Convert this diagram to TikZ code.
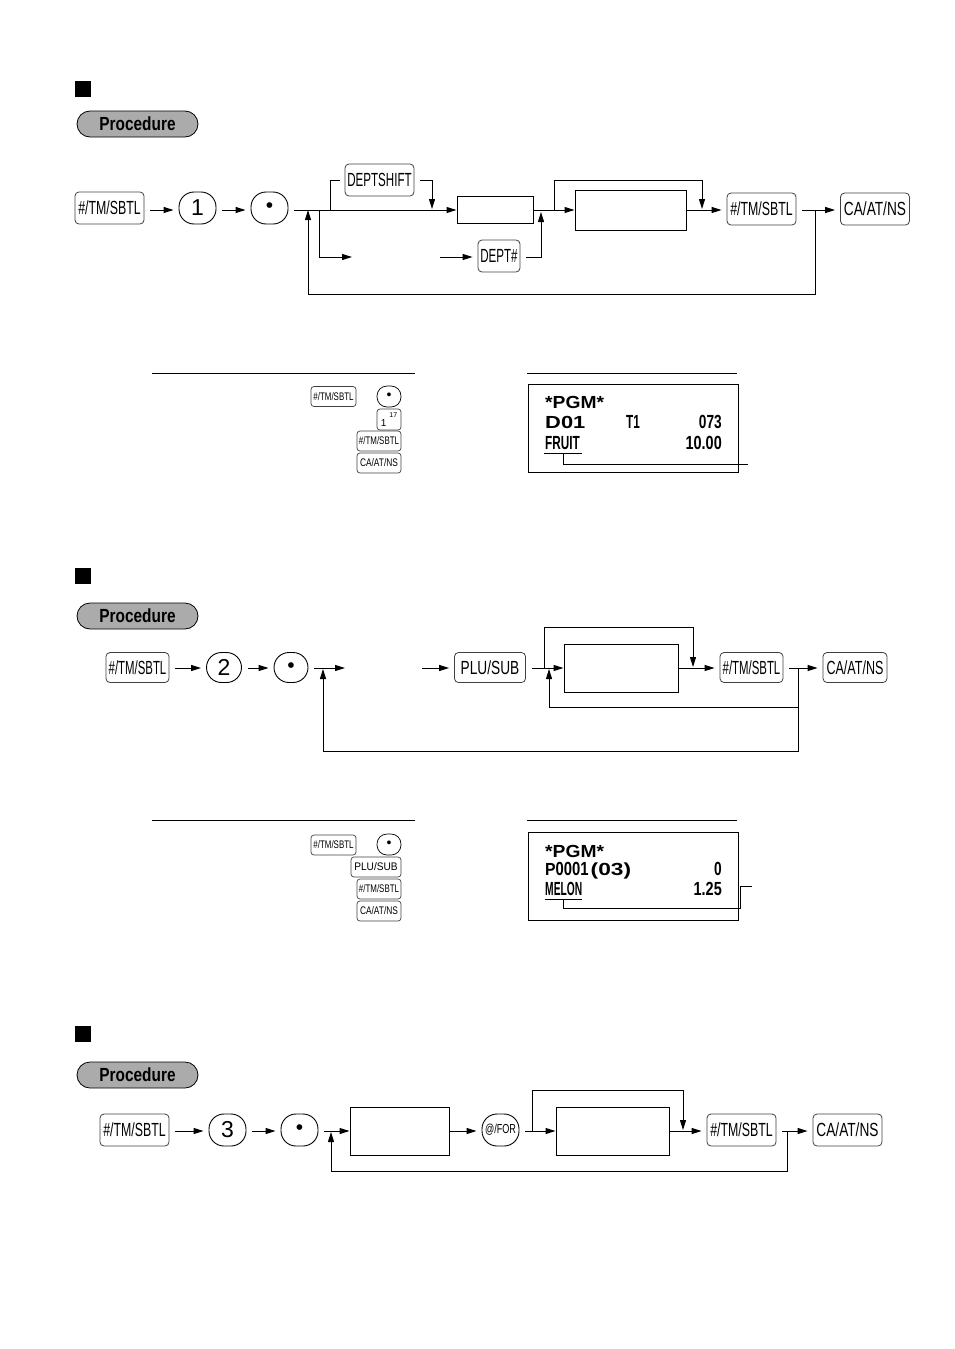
\documentclass[tikz,border=0pt]{standalone}
\usepackage{fontspec}
\setmainfont{Liberation Sans}
\usetikzlibrary{arrows.meta}

\newcommand{\keytxt}[2]{\scalebox{#1}[1]{\fontsize{19}{19}\selectfont #2}}
\newcommand{\smalltxt}[2]{\scalebox{#1}[1]{\fontsize{11}{11}\selectfont #2}}
\newcommand{\lcdbig}[2][1.1]{\scalebox{#1}[1]{\fontsize{17.5}{17.5}\selectfont\bfseries #2}}
\newcommand{\lcdtxt}[2][.62]{\scalebox{#1}[1]{\fontsize{19}{19}\selectfont\bfseries #2}}

\tikzset{
  line/.style={line width=1pt},
  flow/.style={line width=1pt, -{Triangle[length=10pt,width=6pt]}},
  fromkey/.style={shorten <=6pt},
  tokey/.style={shorten >=5pt},
  key/.style={draw=black!75, line width=.8pt, rounded corners=4pt, inner sep=0pt, minimum height=32pt},
  smallkey/.style={draw=black!75, line width=.7pt, rounded corners=3pt, inner sep=0pt, minimum height=20pt},
  roundkey/.style={draw=black, line width=.9pt, rounded corners=15pt, inner sep=0pt, minimum width=37pt, minimum height=32pt},
  smallround/.style={draw=black, line width=.7pt, rounded corners=10pt, inner sep=0pt, minimum width=24pt, minimum height=21pt},
  blank/.style={draw, line width=1pt, inner sep=0pt},
  sqmark/.style={fill=black, inner sep=0pt, minimum size=16pt},
  pill/.style={draw=black, line width=.8pt, fill=black!33, rounded corners=13pt, inner sep=0pt, minimum width=121pt, minimum height=26pt},
  lcd/.style={inner sep=0pt, anchor=base west},
  lcdr/.style={inner sep=0pt, anchor=base east},
}

\begin{document}
\begin{tikzpicture}[x=1pt, y=-1pt]
\useasboundingbox (0,0) rectangle (954,1349);

\node[sqmark] (sq1) at (83,88.5) {};
\node[pill] (pr1) at (137.5,124) {\scalebox{.81}[1]{\fontsize{19}{19}\selectfont\bfseries Procedure}};
\coordinate (a1) at (0,210);
\node[key, minimum width=69pt] (k1) at (109.5,208) {\keytxt{.65}{\#/TM/SBTL}};
\node[roundkey] (c1) at (197.5,208) {\fontsize{23}{23}\selectfont 1};
\node[roundkey] (d1) at (269.5,208) {\fontsize{21}{21}\selectfont •};
\node[key, minimum width=69pt] (ds) at (379.5,180) {\keytxt{.61}{DEPTSHIFT}};
\node[blank, minimum width=76pt, minimum height=27pt] (b1) at (495,210) {};
\node[key, minimum width=42pt] (dk) at (499,256) {\keytxt{.61}{DEPT\#}};
\node[blank, minimum width=111pt, minimum height=40pt] (b2) at (630.5,210) {};
\node[key, minimum width=69pt] (k2) at (761.5,209) {\keytxt{.65}{\#/TM/SBTL}};
\node[key, minimum width=69pt] (k3) at (875,209) {\keytxt{.72}{CA/AT/NS}};
\coordinate (j1) at (308,210);
\coordinate (j2) at (319,210);
\coordinate (j3) at (330,210);
\coordinate (j4) at (432,209);
\coordinate (j5) at (541,212);
\coordinate (j6) at (554,210);
\coordinate (j7) at (702,180);
\coordinate (j8) at (702,209);
\coordinate (j9) at (815,210);
\coordinate (j10) at (815,294);
\coordinate (g1) at (352,257);
\coordinate (g2) at (440,257);
\draw[flow, fromkey, tokey] (k1.east |- a1) -- (c1.west |- a1);
\draw[flow, fromkey, tokey] (c1.east |- a1) -- (d1.west |- a1);
\draw[flow, fromkey] (d1.east |- a1) -- (b1.west);
\draw[line, shorten >=5pt] (j3) |- (ds.west);
\draw[flow, fromkey] (ds.east) -| (j4);
\draw[flow] (j2) |- (g1);
\draw[flow, tokey] (g2) -- (dk.west |- g2);
\draw[flow, fromkey] (dk.east |- g2) -| (j5);
\draw[flow] (b1.east) -- (b2.west);
\draw[flow] (j6) |- (j7) -- (j8);
\draw[flow, tokey] (b2.east) -- (k2.west |- b2.east);
\draw[flow, fromkey, tokey] (k2.east |- a1) -- (k3.west |- a1);
\draw[flow] (j9) -- (j10) -| (j1);

\coordinate (r1a) at (152,373);
\coordinate (r1b) at (415,373);
\draw[line] (r1a) -- (r1b);
\node[smallkey, minimum width=45pt] (s1) at (333.5,396.5) {\smalltxt{.72}{\#/TM/SBTL}};
\node[smallround] (s2) at (389,396.5) {\fontsize{14}{14}\selectfont •};
\node[smallkey, minimum width=24pt, minimum height=21pt] (s3) at (389,419.5) {\raisebox{-3pt}{\fontsize{10}{10}\selectfont 1}\hspace{3pt}\raisebox{6pt}{\fontsize{7}{7}\selectfont 17}};
\node[smallkey, minimum width=44pt] (s4) at (379,441) {\smalltxt{.72}{\#/TM/SBTL}};
\node[smallkey, minimum width=44pt] (s5) at (379,463) {\smalltxt{.76}{CA/AT/NS}};

\coordinate (r2a) at (527,373);
\coordinate (r2b) at (737,373);
\draw[line] (r2a) -- (r2b);
\node[blank, minimum width=210pt, minimum height=88pt] (lcd1) at (633,428) {};
\node[lcd] (t1) at (545,408) {\lcdbig{*PGM*}};
\node[lcd] (t2) at (545,428.5) {\lcdbig[1.25]{D01}};
\node[lcd] (t3) at (626,428.5) {\lcdtxt{T1}};
\node[lcdr] (t4) at (722,428.5) {\lcdtxt[.72]{073}};
\node[lcd] (t5) at (545,449) {\lcdtxt{FRUIT}};
\node[lcdr] (t6) at (722,449) {\lcdtxt[.76]{10.00}};
\coordinate (u1) at (544,453);
\coordinate (u2) at (582,453);
\coordinate (u3) at (563,453);
\coordinate (u4) at (748,464);
\draw[line] (u1) -- (u2);
\draw[line] (u3) |- (u4);

\node[sqmark] (sq2) at (83,575.5) {};
\node[pill] (pr2) at (137.5,616) {\scalebox{.81}[1]{\fontsize{19}{19}\selectfont\bfseries Procedure}};
\node[key, minimum width=63pt, minimum height=30pt] (k4) at (137.5,667.5) {\keytxt{.6}{\#/TM/SBTL}};
\node[roundkey, minimum width=35pt, minimum height=30pt] (c2) at (224,667.5) {\fontsize{23}{23}\selectfont 2};
\node[roundkey, minimum width=34pt, minimum height=30pt] (d2) at (291,667.5) {\fontsize{21}{21}\selectfont •};
\node[key, minimum width=71pt, minimum height=30pt] (k5) at (490,667.5) {\keytxt{.72}{PLU/SUB}};
\node[blank, minimum width=114pt, minimum height=48pt] (b3) at (621,668) {};
\node[key, minimum width=63pt, minimum height=30pt] (k6) at (751.5,667.5) {\keytxt{.6}{\#/TM/SBTL}};
\node[key, minimum width=64pt, minimum height=30pt] (k7) at (855,667.5) {\keytxt{.66}{CA/AT/NS}};
\coordinate (a2) at (0,668);
\coordinate (m1) at (323,669);
\coordinate (m2) at (345,668);
\coordinate (m3) at (422,668);
\coordinate (m4) at (544,668);
\coordinate (m5) at (693,627);
\coordinate (m6) at (693,667);
\coordinate (m7) at (549,669);
\coordinate (m8) at (798,668);
\coordinate (m9) at (798,707);
\coordinate (m10) at (798,751);
\draw[flow, fromkey, tokey] (k4.east |- a2) -- (c2.west |- a2);
\draw[flow, fromkey, tokey] (c2.east |- a2) -- (d2.west |- a2);
\draw[flow, fromkey] (d2.east |- a2) -- (m2);
\draw[flow, tokey] (m3) -- (k5.west |- a2);
\draw[flow, fromkey] (k5.east |- a2) -- (b3.west);
\draw[flow] (m4) |- (m5) -- (m6);
\draw[flow, tokey] (b3.east) -- (k6.west |- b3.east);
\draw[flow, fromkey, tokey] (k6.east |- a2) -- (k7.west |- a2);
\draw[flow] (m9) -| (m7);
\draw[flow] (m8) -- (m10) -| (m1);

\coordinate (r3a) at (152,820);
\coordinate (r3b) at (415,820);
\draw[line] (r3a) -- (r3b);
\node[smallkey, minimum width=45pt] (s6) at (333.5,845) {\smalltxt{.72}{\#/TM/SBTL}};
\node[smallround] (s7) at (389,844.5) {\fontsize{14}{14}\selectfont •};
\node[smallkey, minimum width=50pt] (s8) at (376,867) {\smalltxt{.92}{PLU/SUB}};
\node[smallkey, minimum width=44pt] (s9) at (379,889) {\smalltxt{.72}{\#/TM/SBTL}};
\node[smallkey, minimum width=44pt] (s10) at (379,911) {\smalltxt{.76}{CA/AT/NS}};

\coordinate (r4a) at (527,820);
\coordinate (r4b) at (737,820);
\draw[line] (r4a) -- (r4b);
\node[blank, minimum width=210pt, minimum height=88pt] (lcd2) at (633,876) {};
\node[lcd] (t7) at (545,857) {\lcdbig{*PGM*}};
\node[lcd] (t8) at (545,875.5) {\lcdbig[.9]{P}\lcdtxt[.78]{0001}\hspace{2pt}\lcdbig[1.3]{(03)}};
\node[lcdr] (t9) at (722,875.5) {\lcdtxt[.72]{0}};
\node[lcd] (t10) at (545,895.5) {\lcdtxt[.54]{MELON}};
\node[lcdr] (t11) at (722,895.5) {\lcdtxt[.76]{1.25}};
\coordinate (v1) at (545,899);
\coordinate (v2) at (582,899);
\coordinate (v3) at (563,899);
\coordinate (v4) at (740,908);
\coordinate (v5) at (740,886);
\coordinate (v6) at (752,886);
\draw[line] (v1) -- (v2);
\draw[line] (v3) |- (v4) -- (v5) -- (v6);

\node[sqmark] (sq3) at (83,1033.5) {};
\node[pill] (pr3) at (137.5,1075) {\scalebox{.81}[1]{\fontsize{19}{19}\selectfont\bfseries Procedure}};
\node[key, minimum width=69pt] (k8) at (134.5,1130) {\keytxt{.65}{\#/TM/SBTL}};
\node[roundkey] (c3) at (227.5,1130) {\fontsize{23}{23}\selectfont 3};
\node[roundkey] (d3) at (299.5,1130) {\fontsize{21}{21}\selectfont •};
\node[blank, minimum width=99pt, minimum height=48pt] (b4) at (399.5,1131) {};
\node[roundkey] (f1) at (500.5,1130) {\scalebox{.7}[1]{\fontsize{13}{13}\selectfont @/FOR}};
\node[blank, minimum width=113pt, minimum height=48pt] (b5) at (612.5,1131) {};
\node[key, minimum width=69pt] (k9) at (741.5,1130) {\keytxt{.65}{\#/TM/SBTL}};
\node[key, minimum width=69pt] (k10) at (847.5,1130) {\keytxt{.72}{CA/AT/NS}};
\coordinate (a3) at (0,1131);
\coordinate (n1) at (331,1132);
\coordinate (n2) at (532,1131);
\coordinate (n3) at (683,1090);
\coordinate (n4) at (683,1130);
\coordinate (n5) at (787,1131);
\coordinate (n6) at (787,1171);
\draw[flow, fromkey, tokey] (k8.east |- a3) -- (c3.west |- a3);
\draw[flow, fromkey, tokey] (c3.east |- a3) -- (d3.west |- a3);
\draw[flow, fromkey] (d3.east |- a3) -- (b4.west);
\draw[flow, tokey] (b4.east) -- (f1.west |- a3);
\draw[flow, fromkey] (f1.east |- a3) -- (b5.west);
\draw[flow] (n2) |- (n3) -- (n4);
\draw[flow, tokey] (b5.east) -- (k9.west |- a3);
\draw[flow, fromkey, tokey] (k9.east |- a3) -- (k10.west |- a3);
\draw[flow] (n5) -- (n6) -| (n1);
\end{tikzpicture}
\end{document}
